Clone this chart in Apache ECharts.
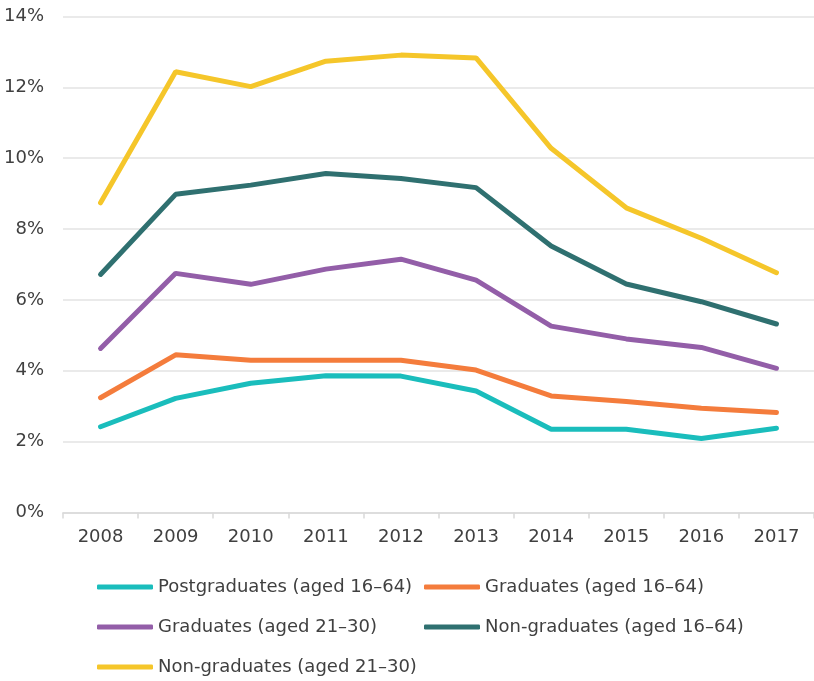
<!DOCTYPE html>
<html>
<head>
<meta charset="utf-8">
<script src="https://cdn.jsdelivr.net/npm/echarts@6/dist/echarts.min.js"></script>
<style>
  html, body { margin: 0; padding: 0; background: #fff; }
  #chart { width: 814px; height: 681px; }
</style>
</head>
<body>
<div id="chart"></div>
<script>
const years = ['2008', '2009', '2010', '2011', '2012', '2013', '2014', '2015', '2016', '2017']
// unemployment rate, %
const postgrad1664 = [2.42, 3.22, 3.65, 3.86, 3.85, 3.43, 2.35, 2.35, 2.09, 2.38]
const grad1664 = [3.24, 4.45, 4.30, 4.30, 4.30, 4.02, 3.29, 3.13, 2.94, 2.82]
const grad2130 = [4.63, 6.75, 6.44, 6.87, 7.15, 6.56, 5.26, 4.90, 4.66, 4.07]
const nongrad1664 = [6.72, 8.98, 9.24, 9.57, 9.43, 9.17, 7.52, 6.45, 5.95, 5.32]
const nongrad2130 = [8.74, 12.44, 12.02, 12.74, 12.91, 12.83, 10.28, 8.60, 7.74, 6.77]

const textColor = '#404040'
const fontFamily = 'DejaVu Sans'

function lineSeries(name, data, color) {
    return {
        name: name,
        type: 'line',
        data: data,
        symbol: 'none',
        color: color,
        lineStyle: { width: 5, color: color, cap: 'round' },
        animation: false
    }
}

function legendCol(left, names) {
    return {
        orient: 'vertical',
        left: left,
        top: 577,
        height: 104,
        padding: 0,
        itemWidth: 56,
        itemHeight: 5,
        itemGap: 20,
        icon: 'roundRect',
        textStyle: { color: textColor, fontSize: 18, lineHeight: 20, fontFamily: fontFamily },
        data: names
    }
}

const chart = echarts.init(document.getElementById('chart'))
chart.setOption({
    textStyle: { fontFamily: fontFamily },
    grid: {
        left: 63,
        top: 16.5,
        width: 758,
        bottom: 168.5
    },
    legend: [
        legendCol(97, ['Postgraduates (aged 16\u201364)', 'Graduates (aged 21\u201330)', 'Non-graduates (aged 21\u201330)']),
        legendCol(424, ['Graduates (aged 16\u201364)', 'Non-graduates (aged 16\u201364)'])
    ],
    xAxis: {
        type: 'category',
        data: years,
        boundaryGap: true,
        axisLine: { lineStyle: { color: '#d9d9d9', width: 1.5 } },
        axisTick: { show: true, length: 6, lineStyle: { color: '#d9d9d9', width: 1.5 } },
        axisLabel: { color: textColor, fontSize: 18, margin: 16 }
    },
    yAxis: {
        type: 'value',
        min: 0,
        max: 14,
        interval: 2,
        axisLine: { show: false },
        axisTick: { show: false },
        splitLine: { lineStyle: { color: '#e3e3e3', width: 1.5 } },
        axisLabel: { color: textColor, fontSize: 18, margin: 19, formatter: '{value}%' }
    },
    series: [
        lineSeries('Postgraduates (aged 16\u201364)', postgrad1664, '#1abdbc'),
        lineSeries('Graduates (aged 16\u201364)', grad1664, '#f47c3c'),
        lineSeries('Graduates (aged 21\u201330)', grad2130, '#935ea8'),
        lineSeries('Non-graduates (aged 16\u201364)', nongrad1664, '#2f7070'),
        lineSeries('Non-graduates (aged 21\u201330)', nongrad2130, '#f5c62a')
    ]
})
</script>
</body>
</html>
